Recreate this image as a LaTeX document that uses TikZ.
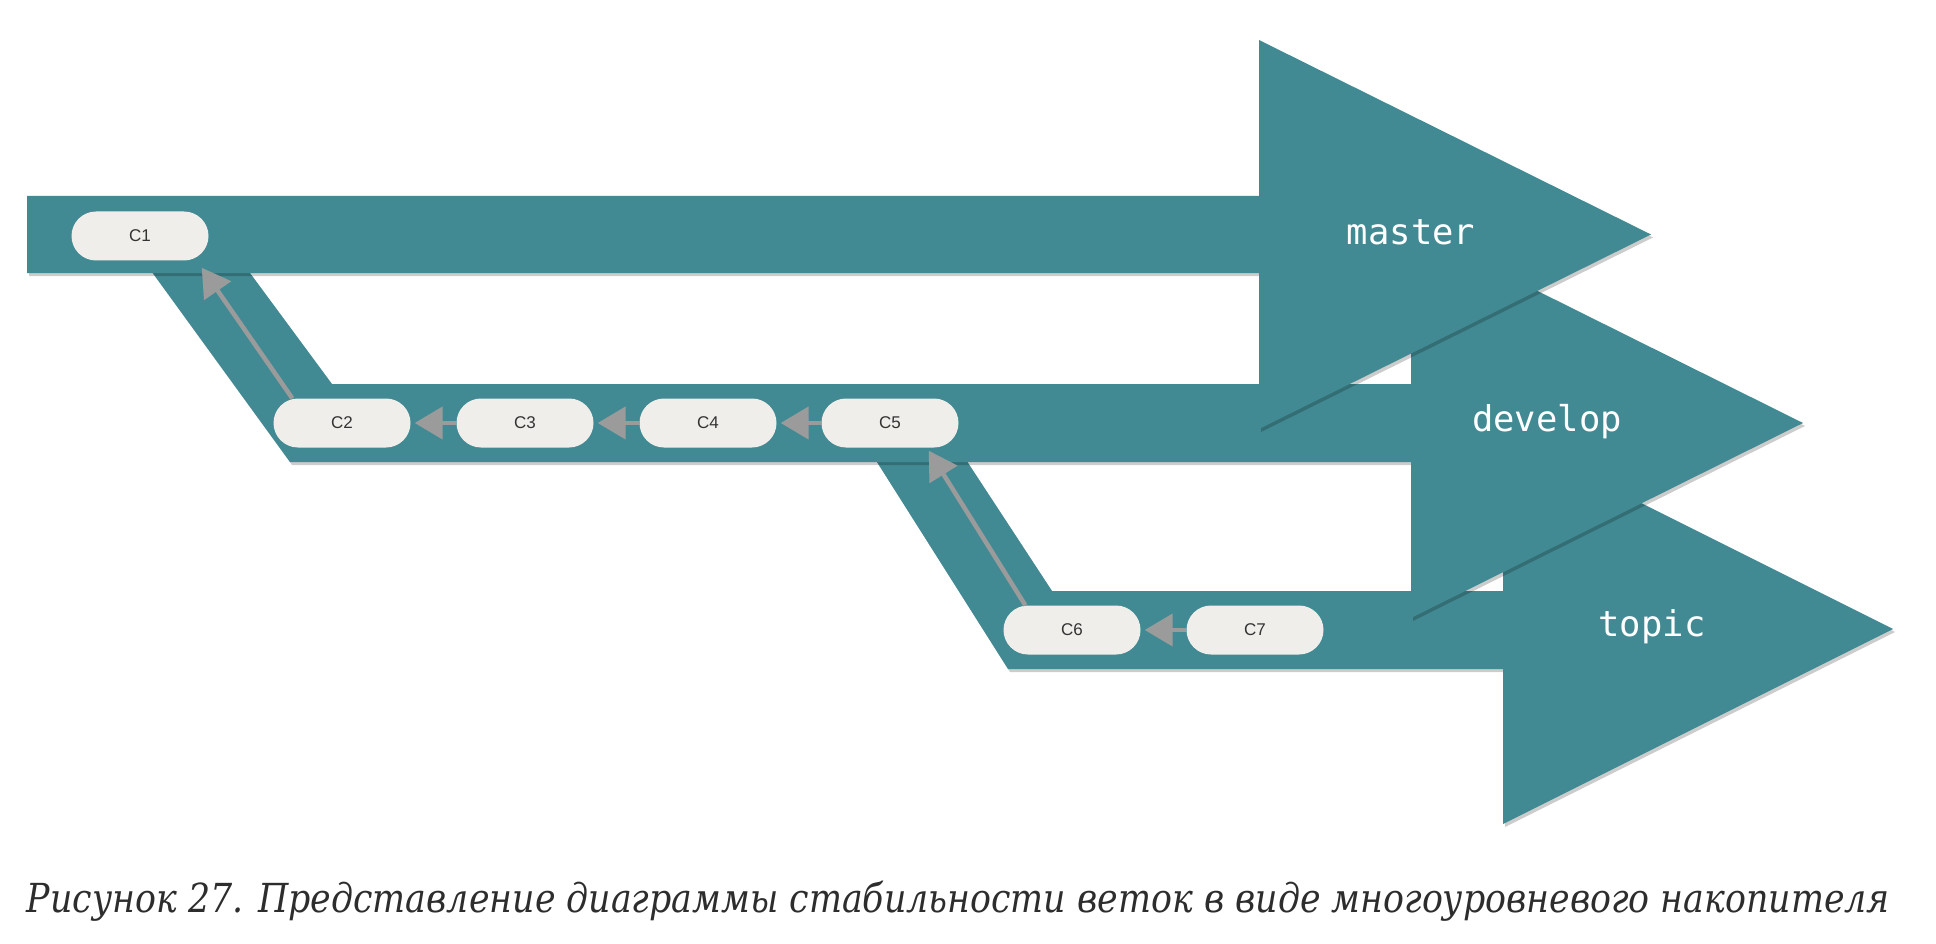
\documentclass[tikz,border=0pt]{standalone}
\usepackage{fontspec}
\usetikzlibrary{arrows.meta,calc}
\newfontfamily\lblfont{DejaVu Sans Mono}
\newfontfamily\cmtfont{Liberation Sans}
\newfontfamily\capfont{DejaVu Serif}
\definecolor{teal1}{RGB}{66,138,147}
\definecolor{nodefill}{RGB}{239,238,234}
\definecolor{arrowgray}{RGB}{155,155,155}
\definecolor{captext}{RGB}{45,45,45}
\def\masterpath{(27,196) -- (1259,196) -- (1259,40) -- (1651,234.5) -- (1259,429) -- (1259,273) -- (27,273) -- cycle}
\def\developpath{(136,250) -- (233,250) -- (332,384) -- (1411,384) -- (1411,228) -- (1803,423) -- (1411,618) -- (1411,462) -- (290,462) -- cycle}
\def\topicpath{(863,440) -- (953,440) -- (1052,591) -- (1503,591) -- (1503,434) -- (1893,629) -- (1503,824) -- (1503,669) -- (1008,669) -- cycle}
\begin{document}
\begin{tikzpicture}[x=1pt,y=-1pt,
  commit/.style={fill=nodefill, rounded corners=24.5pt, minimum width=137pt, minimum height=49pt, inner sep=0pt, font=\cmtfont\fontsize{17}{19}\selectfont, text=black!80},
  branchlbl/.style={text=white, font=\lblfont\fontsize{35.5}{40}\selectfont, inner sep=0pt},
  band/.style={fill=teal1},
  shade/.style={fill=black, opacity=0.2},
  parent/.style={draw=arrowgray, line width=4.5pt, -{Triangle[length=28pt,width=32pt]}, shorten >=4pt},
]
\useasboundingbox (0,0) rectangle (1936,944);
% topic branch
\fill[shade, shift={(2,3)}] \topicpath;
\fill[band] \topicpath;
% develop branch
\fill[shade, shift={(2,3)}] \developpath;
\fill[band] \developpath;
% master branch
\fill[shade, shift={(2,3)}] \masterpath;
\fill[band] \masterpath;
% labels
\node[branchlbl] (lm) at (1411,232) {master};
\node[branchlbl] (ld) at (1547,422) {develop};
\node[branchlbl] (lt) at (1652,627) {topic};
% commits
\node[commit] (C1) at (140,236) {C1};
\node[commit] (C2) at (342,423) {C2};
\node[commit] (C3) at (525,423) {C3};
\node[commit] (C4) at (708,423) {C4};
\node[commit] (C5) at (890,423) {C5};
\node[commit] (C6) at (1072,630) {C6};
\node[commit] (C7) at (1255,630) {C7};
% parent links
\draw[parent] (C3) -- (C2);
\draw[parent] (C4) -- (C3);
\draw[parent] (C5) -- (C4);
\draw[parent] (C7) -- (C6);
\draw[parent, shorten >=0pt] ($(C2.north west)+(19,0)$) -- ($(C1.south east)+(-7,7)$);
\draw[parent, shorten >=0pt] ($(C6.north west)+(22,0)$) -- ($(C5.south east)+(-30,3)$);
% caption
\node[text=captext, inner sep=0pt, anchor=base] (cap) at (958.5,912) {\resizebox{1863pt}{\height}{\capfont\itshape\fontsize{40}{44}\selectfont Рисунок 27. Представление диаграммы стабильности веток в виде многоуровневого накопителя}};
\end{tikzpicture}
\end{document}
